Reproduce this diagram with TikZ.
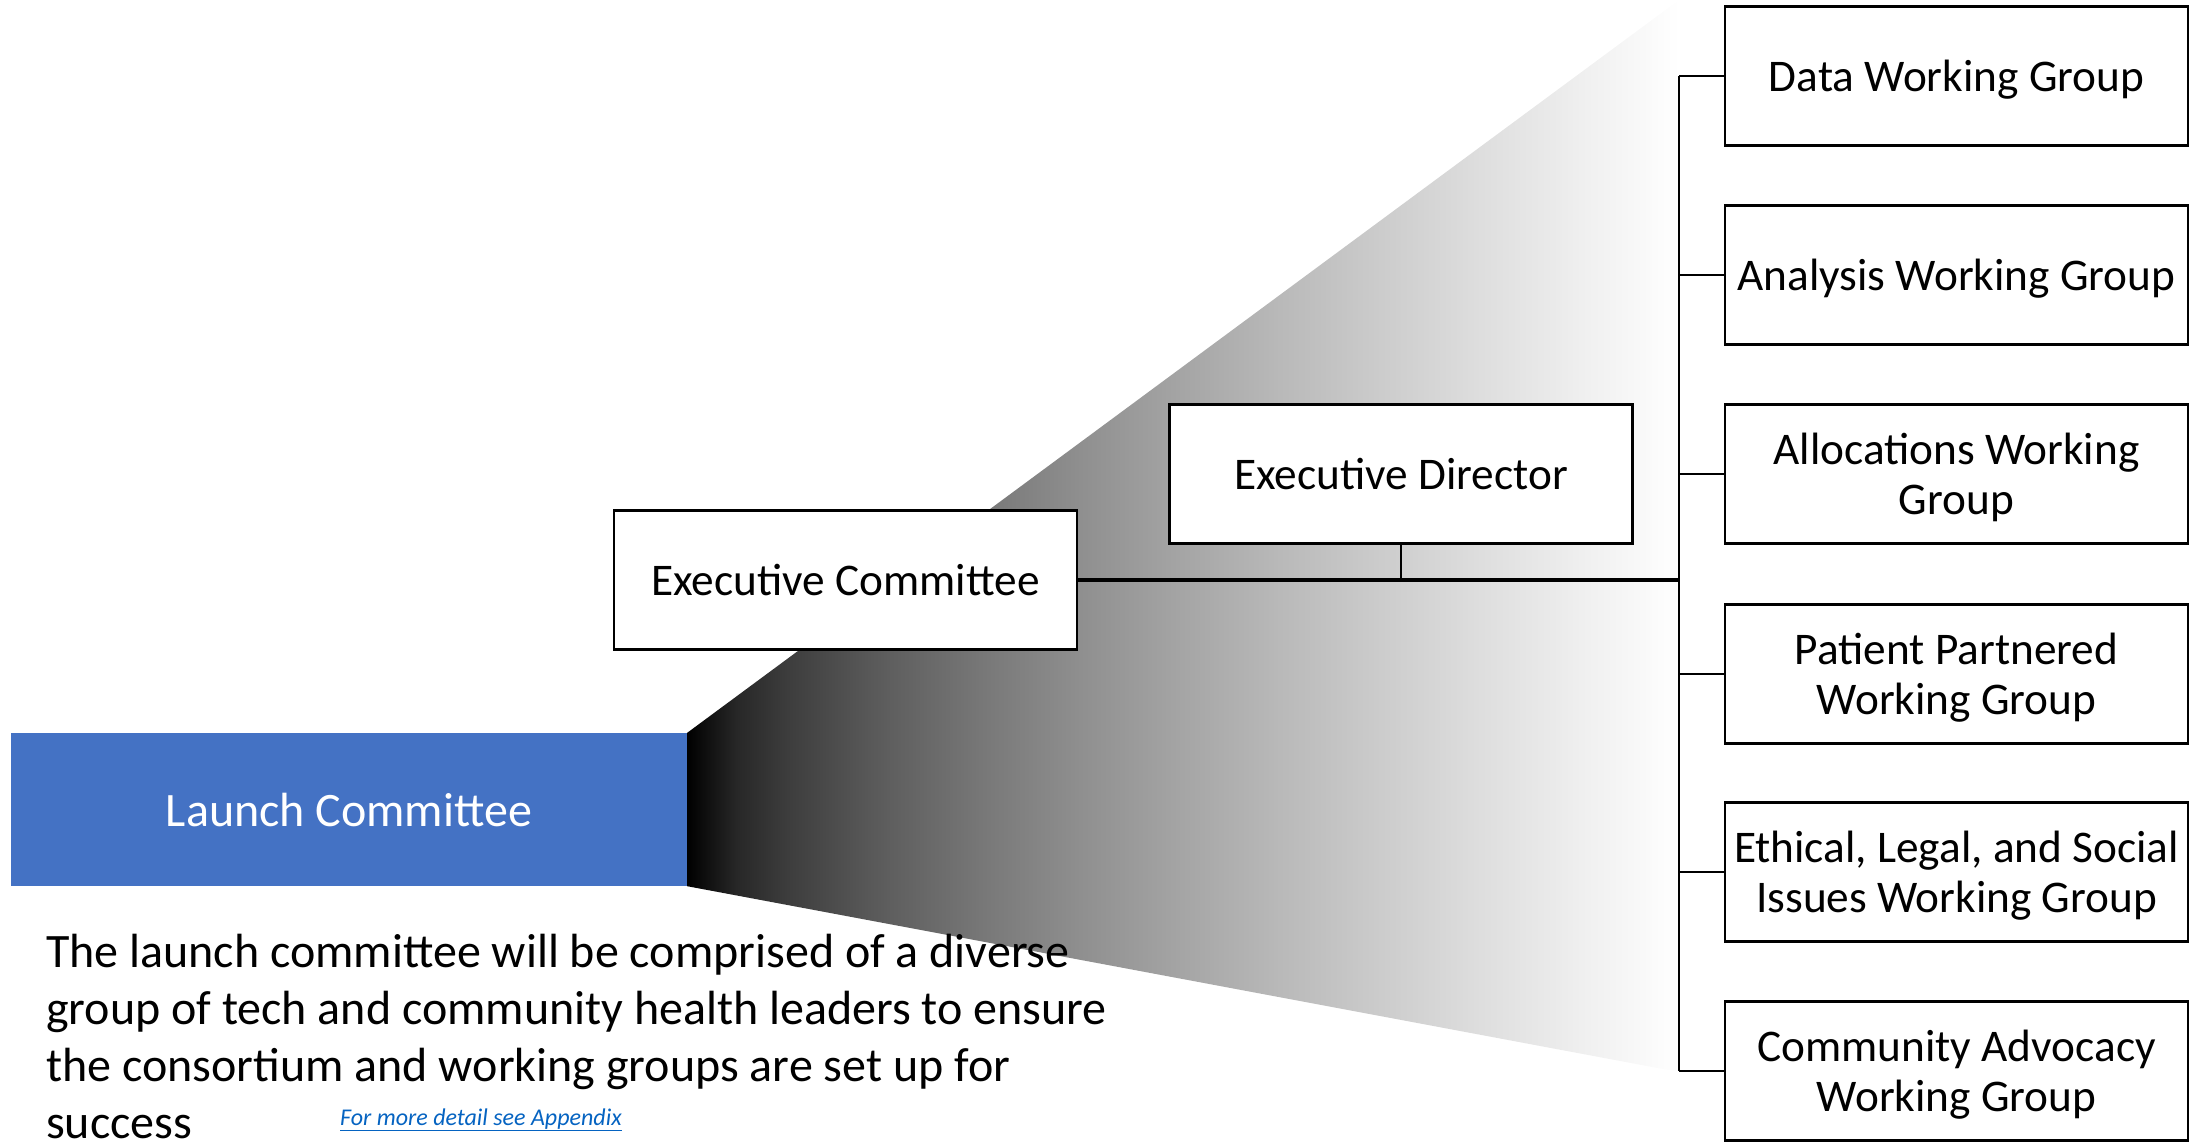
\documentclass[tikz,border=0pt]{standalone}
\usepackage{fontspec}
\setmainfont{Carlito}
\definecolor{launchblue}{HTML}{4472C4}
\definecolor{linkblue}{HTML}{0563C1}
\pgfdeclarehorizontalshading{wedgeshade}{100bp}{color(0bp)=(black); color(25bp)=(black);
  color(27.5bp)=(black!84.6); color(30bp)=(black!76.3); color(35bp)=(black!63.4);
  color(40bp)=(black!52.9); color(45bp)=(black!43.6); color(50bp)=(black!35.2);
  color(55bp)=(black!27.3); color(60bp)=(black!20); color(65bp)=(black!13);
  color(70bp)=(black!6.4); color(75bp)=(white); color(100bp)=(white)}
\begin{document}
\begin{tikzpicture}[x=1pt,y=-1pt,
  box/.style={draw=black, line width=2.6pt, fill=white, minimum width=463pt, minimum height=139pt,
    align=center, inner sep=0pt, text depth=0pt, font=\fontsize{45.3}{50}\selectfont},
  conn/.style={draw=black, line width=2.6pt},
  mainline/.style={draw=black, line width=4pt},
  thinline/.style={draw=black, line width=1.8pt}]
\useasboundingbox (0,0) rectangle (2192,1141);
% launch committee
\node[fill=launchblue, minimum width=676pt, minimum height=153pt, inner sep=0pt,
  text=white, font=\fontsize{48}{57}\selectfont] (lc) at (349,809.5) {Launch Committee};
% gradient wedge
\coordinate (gtop) at (1679,0);
\coordinate (gbot) at (1679,1072);
\shade[shading=wedgeshade] (lc.north east) -- (gtop) -- (gbot) -- (lc.south east) -- cycle;
% boxes
\node[box] (ec) at (845.5,580) {Executive Committee};
\node[box] (ed) at (1401,474) {Executive Director};
\node[box] (wg1) at (1956.5,76) {Data Working Group};
\node[box] (wg2) at (1956.5,275) {Analysis Working Group};
\node[box] (wg3) at (1956.5,474) {Allocations Working\\Group};
\node[box] (wg4) at (1956.5,674) {Patient Partnered\\Working Group};
\node[box] (wg5) at (1956.5,872) {Ethical, Legal, and Social\\Issues Working Group};
\node[box] (wg6) at (1956.5,1071) {Community Advocacy\\Working Group};
% connectors
\coordinate (trunk) at (1679,580);
\draw[conn] (wg1.west -| trunk) -- (wg6.west -| trunk);
\foreach \w in {wg1,wg2,wg3,wg4,wg5,wg6}{
  \draw[conn] (\w.west) -- (\w.west -| trunk);
}
\draw[mainline] (ec.east) -- (trunk);
\draw[thinline] (ed.south) -- (ed.south |- ec.east);
% body text
\node[anchor=base west, inner sep=0pt, align=left, font=\fontsize{48}{57}\selectfont] (body) at (46,1138)
  {The launch committee will be comprised of a diverse\\group of tech and community health leaders to ensure\\the consortium and working groups are set up for\\success};
\node[anchor=base west, inner sep=0pt, text=linkblue, font=\fontsize{24}{28}\selectfont\itshape] (link) at (340,1125)
  {\underline{For more detail see Appendix}};
\end{tikzpicture}
\end{document}
